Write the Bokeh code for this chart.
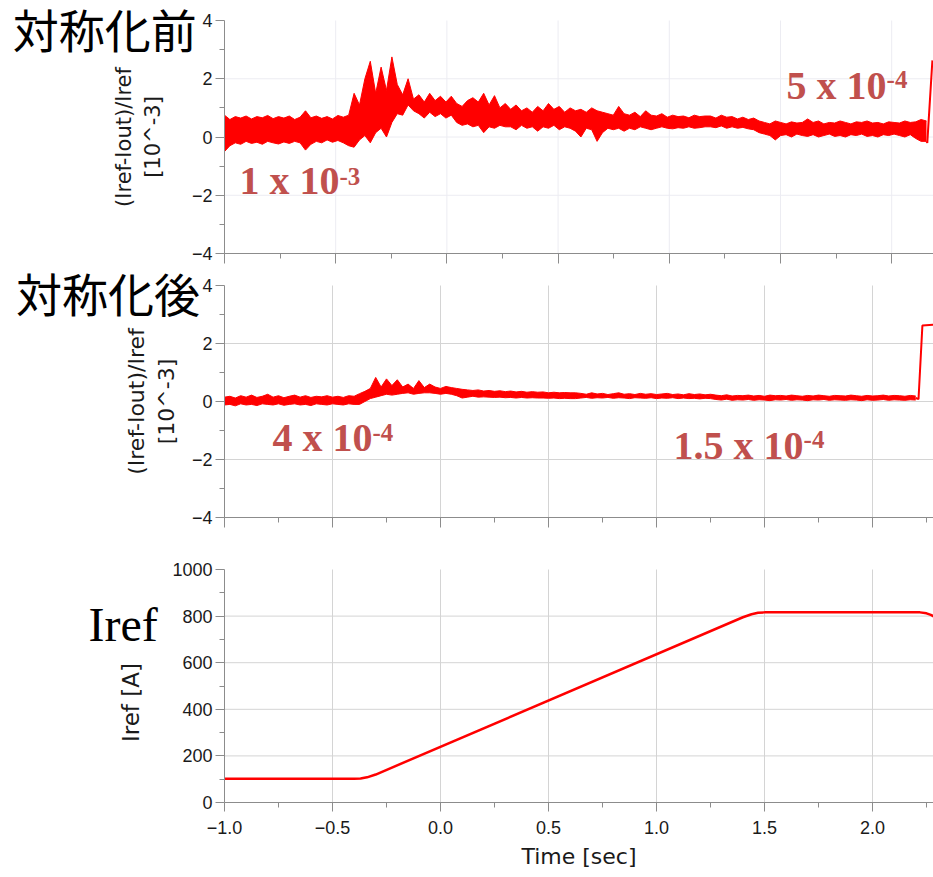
import math
import numpy as np
from bokeh.plotting import figure
from bokeh.layouts import column
from bokeh.models import Range1d, FixedTicker, Label, LinearAxis
from bokeh.embed import file_html
from bokeh.resources import INLINE

# ---------------- data ----------------
# top panel (before symmetrisation): envelope of the noisy trace, sampled every TOP_DT s from -1.0
TOP_T0 = -1.0
TOP_DT = 0.02428
TOP_HI = [0.75, 0.6, 0.7, 0.65, 0.72, 0.62, 0.7, 0.66, 0.74, 0.63, 0.7, 0.65, 0.72, 0.6, 0.68,
          0.9, 0.66, 0.72, 0.64, 0.7, 0.62, 0.74, 0.68, 0.75,
          1.5, 1.1, 2.0, 2.6, 1.5, 2.4, 1.6, 2.75, 1.8,
          1.45, 2.0, 1.3, 1.45, 1.2, 1.5, 1.25, 1.4, 1.2, 1.4, 1.15, 1.05,
          1.25, 1.35, 1.2, 1.5, 1.1, 1.42, 1.0, 1.15,
          0.95, 1.1, 0.9, 1.0, 0.85, 1.05, 0.9, 1.15, 0.95, 1.05, 0.85, 1.0, 0.9, 0.95, 0.85, 1.0, 0.9,
          0.85, 0.8, 0.75, 1.05, 0.8, 0.75, 0.85, 0.7, 0.9, 0.75, 0.72, 0.8, 0.68, 0.75, 0.7, 0.72,
          0.66, 0.75, 0.7, 0.72,
          0.72, 0.65, 0.75, 0.68, 0.7, 0.62, 0.68, 0.6, 0.65, 0.55,
          0.5, 0.45, 0.55, 0.5, 0.45, 0.52, 0.48, 0.5, 0.62, 0.5, 0.55, 0.45, 0.5, 0.48, 0.55, 0.5,
          0.45, 0.52, 0.5, 0.55, 0.48, 0.5, 0.45, 0.52, 0.5, 0.48, 0.55, 0.5, 0.52, 0.6, 0.55]
TOP_LO = [-0.5, -0.3, -0.2, -0.25, -0.15, -0.22, -0.18, -0.25, -0.15, -0.2, -0.24, -0.17, -0.22,
          -0.15, -0.2, -0.45, -0.25, -0.15, -0.2, -0.1, -0.18, -0.12, -0.2, -0.3,
          -0.35, -0.1, 0.05, -0.2, 0.15, 0.3, 0.0, 0.5, 0.8,
          0.75, 1.1, 0.9, 0.8, 0.65, 0.85, 0.7, 0.8, 0.65, 0.75, 0.5, 0.4,
          0.45, 0.35, 0.4, 0.15, 0.35, 0.3, 0.4, 0.35,
          0.35, 0.25, 0.4, 0.3, 0.35, 0.2, 0.35, 0.3, 0.4, 0.25, 0.35, 0.3, 0.2, 0.0, 0.3, 0.25, -0.15,
          0.15, 0.3, 0.25, 0.3, 0.2, 0.3, 0.25, 0.35, 0.3, 0.25, 0.3, 0.35, 0.3, 0.28, 0.32, 0.3,
          0.35, 0.3, 0.32, 0.35,
          0.35, 0.32, 0.38, 0.3, 0.35, 0.3, 0.33, 0.28, 0.25, 0.15,
          0.1, 0.05, -0.1, 0.05, 0.08, 0.0, 0.1, 0.05, 0.02, 0.08, 0.0, 0.05, 0.1, 0.02, 0.05, 0.0,
          0.08, 0.05, 0.1, 0.02, 0.05, 0.0, 0.08, 0.05, 0.1, 0.05, 0.0, 0.08, -0.05, -0.15, -0.15]
TOP_JUMP_T = [2.1564, 2.16, 2.183]
TOP_JUMP_V = [-0.15, -0.2, 2.63]

# middle panel (after symmetrisation), sampled every 0.025 s from -1.0
MID_T0 = -1.0
MID_DT = 0.025
MID_HI = [0.15, 0.18, 0.12, 0.2, 0.15, 0.22, 0.14, 0.18, 0.25, 0.15, 0.2, 0.13, 0.18, 0.22, 0.15,
          0.2, 0.14, 0.18, 0.16, 0.2, 0.15, 0.18, 0.14, 0.2, 0.18,
          0.27, 0.35, 0.45, 0.83, 0.5, 0.78, 0.55, 0.75, 0.5, 0.6, 0.45, 0.72, 0.48, 0.6,
          0.5, 0.45, 0.52, 0.48, 0.45, 0.42, 0.4, 0.38, 0.4, 0.36, 0.38, 0.35, 0.37, 0.34, 0.36,
          0.33, 0.35, 0.32, 0.34, 0.32, 0.33, 0.3, 0.32, 0.3, 0.31, 0.3, 0.3,
          0.28, 0.25, 0.3, 0.26, 0.28, 0.24, 0.27, 0.3, 0.25, 0.27, 0.24, 0.28, 0.25, 0.27, 0.24,
          0.26, 0.28, 0.24, 0.26, 0.23, 0.27, 0.24, 0.26, 0.23, 0.25,
          0.22, 0.2, 0.23, 0.19, 0.21, 0.2, 0.22, 0.19, 0.21, 0.18, 0.22, 0.2, 0.21, 0.19, 0.22,
          0.2, 0.18, 0.21, 0.19, 0.22, 0.2, 0.18, 0.21, 0.2, 0.19, 0.22, 0.2, 0.18, 0.21, 0.19,
          0.2, 0.22, 0.19, 0.21, 0.2, 0.18, 0.21, 0.19]
MID_LO = [-0.12, -0.1, -0.15, -0.08, -0.12, -0.1, -0.14, -0.08, -0.1, -0.12, -0.08, -0.13, -0.1,
          -0.08, -0.12, -0.1, -0.14, -0.08, -0.1, -0.12, -0.08, -0.1, -0.12, -0.08, -0.1,
          -0.1, 0.0, 0.1, 0.15, 0.2, 0.25, 0.22, 0.25, 0.28, 0.3, 0.25, 0.28, 0.3, 0.3,
          0.28, 0.25, 0.28, 0.25, 0.2, 0.12, 0.15, 0.18, 0.15, 0.16, 0.15, 0.14, 0.15, 0.13, 0.14,
          0.12, 0.14, 0.12, 0.13, 0.12, 0.12, 0.11, 0.12, 0.1, 0.11, 0.1, 0.1,
          0.12, 0.14, 0.11, 0.13, 0.12, 0.14, 0.11, 0.13, 0.12, 0.1, 0.13, 0.12, 0.11, 0.13, 0.1,
          0.12, 0.11, 0.13, 0.1, 0.12, 0.1, 0.11, 0.09, 0.11, 0.1,
          0.07, 0.05, 0.08, 0.04, 0.06, 0.05, 0.07, 0.04, 0.06, 0.05, 0.03, 0.06, 0.05, 0.07, 0.04,
          0.06, 0.05, 0.03, 0.06, 0.05, 0.07, 0.04, 0.06, 0.05, 0.04, 0.06, 0.05, 0.03, 0.06, 0.04,
          0.05, 0.07, 0.04, 0.06, 0.05, 0.04, 0.06, 0.05]
MID_JUMP_T = [2.2, 2.213, 2.231, 2.285]
MID_JUMP_V = [0.12, 0.08, 2.62, 2.65]

# bottom panel: reference current Iref [A]
IREF_T = [-1.0, -0.4, -0.37, -0.34, -0.3, 1.4, 1.44, 1.47, 1.5, 2.22, 2.25, 2.27, 2.29]
IREF_A = [102, 102, 103, 108, 120, 795, 808, 814, 816, 816, 812, 805, 796]

X_MAJOR = [-1.0, -0.5, 0.0, 0.5, 1.0, 1.5, 2.0]
X_MINOR = [-0.75, -0.25, 0.25, 0.75, 1.25, 1.75, 2.25]
X_LABELS = ["\u22121.0", "\u22120.5", "0.0", "0.5", "1.0", "1.5", "2.0"]
R_MAJOR = [-4, -2, 0, 2, 4]
R_MINOR = [-3, -1, 1, 3]
R_LABELS = ["\u22124", "\u22122", "0", "2", "4"]
I_MAJOR = [0, 200, 400, 600, 800, 1000]
I_MINOR = [100, 300, 500, 700, 900]

assert len(TOP_HI) == len(TOP_LO)
assert len(MID_HI) == len(MID_LO)
top_t = TOP_T0 + TOP_DT * np.arange(len(TOP_HI))
mid_t = MID_T0 + MID_DT * np.arange(len(MID_HI))

RED = "#ff0000"
ANN = "#c0504d"
AXIS_COL = "#8c8c8c"
TICK_FONT = "Liberation Sans"
LAB_FONT = "DejaVu Sans"
X0 = -1.0          # where the y axis sits
AXIS_PX = 224      # horizontal pixel position of that axis
FIG_W = 933


def style_axis(ax):
    ax.axis_line_color = AXIS_COL
    ax.major_tick_line_color = AXIS_COL
    ax.minor_tick_line_color = AXIS_COL
    ax.major_tick_out = 9
    ax.major_tick_in = 0
    ax.minor_tick_out = 5
    ax.minor_tick_in = 0
    ax.major_label_text_font = TICK_FONT
    ax.major_label_text_font_size = "18px"
    ax.major_label_text_color = "#1a1a1a"
    ax.axis_label_text_font = LAB_FONT
    ax.axis_label_text_font_size = "21px"
    ax.axis_label_text_font_style = "normal"
    ax.axis_label_text_color = "#1a1a1a"


def make_fig(height, py_top, py_bot, px_per_s, yr, ymaj, ymin, ylabels, grid_color, show_x_labels):
    """The frame covers the whole canvas; axes are pinned at x=X0 and y=yr[0]."""
    x_start = X0 - AXIS_PX / px_per_s
    x_end = x_start + FIG_W / px_per_s
    ppu = (py_bot - py_top) / (yr[1] - yr[0])
    y_start = yr[0] - (height - py_bot) / ppu
    y_end = yr[1] + py_top / ppu
    p = figure(width=FIG_W, height=height, x_range=Range1d(x_start, x_end),
               y_range=Range1d(y_start, y_end),
               output_backend="svg", toolbar_location=None,
               min_border_left=0, min_border_right=0, min_border_top=0, min_border_bottom=0)
    p.outline_line_color = None
    p.background_fill_color = "white"
    p.border_fill_color = "white"
    p.xgrid.visible = False
    p.ygrid.visible = False
    xa, ya = p.xaxis[0], p.yaxis[0]
    style_axis(xa)
    style_axis(ya)
    ya.fixed_location = X0
    ya.bounds = (yr[0], yr[1])
    ya.ticker = FixedTicker(ticks=ymaj, minor_ticks=ymin)
    ya.major_label_overrides = {v: s for v, s in zip(ymaj, ylabels)}
    ya.major_label_standoff = 3
    xa.fixed_location = yr[0]
    xa.bounds = (X0, x_end)
    if show_x_labels:
        xa.ticker = FixedTicker(ticks=X_MAJOR, minor_ticks=X_MINOR)
        xa.major_label_overrides = {v: s for v, s in zip(X_MAJOR, X_LABELS)}
        xa.major_label_standoff = 9
    else:
        # unlabeled time axis: long marks at the half seconds, short ones between
        xa.ticker = FixedTicker(ticks=[], minor_ticks=X_MINOR)
        xb = LinearAxis(fixed_location=yr[0], bounds=(X0, x_end),
                        ticker=FixedTicker(ticks=[], minor_ticks=X_MAJOR))
        style_axis(xb)
        xb.minor_tick_out = 10
        p.add_layout(xb, "below")
    # grid lines, limited to the plotting area
    gy = [v for v in ymaj if yr[0] < v < yr[1]]
    p.segment(x0=[X0] * len(gy), x1=[x_end] * len(gy), y0=gy, y1=gy,
              line_color=grid_color, line_width=1, level="underlay")
    gx = [v for v in X_MAJOR if v > X0]
    p.segment(x0=gx, x1=gx, y0=[yr[0]] * len(gx), y1=[yr[1]] * len(gx),
              line_color=grid_color, line_width=1, level="underlay")
    return p


def note(p, x, y, text, size):
    p.add_layout(Label(x=x, y=y, text=text, text_font="Liberation Serif", text_font_style="bold",
                       text_font_size=size, text_color=ANN, text_baseline="bottom"))


def big_text(p, x, y, text, font, size, baseline):
    p.add_layout(Label(x=x, y=y, text=text, text_font=font, text_font_size=size,
                       text_baseline=baseline, text_color="black", text_line_height=1.0))


# ---------- top ----------
p1 = make_fig(265, 20, 253, 222.4, (-4, 4), R_MAJOR, R_MINOR, R_LABELS, "#ececf2", False)
p1.yaxis[0].axis_label = "(Iref-Iout)/Iref\n[10^-3]"
p1.yaxis[0].axis_label_standoff = 24
p1.varea(x=top_t, y1=TOP_LO, y2=TOP_HI, fill_color=RED)
p1.line(top_t, TOP_HI, line_color=RED, line_width=1)
p1.line(top_t, TOP_LO, line_color=RED, line_width=1)
p1.line(TOP_JUMP_T, TOP_JUMP_V, line_color=RED, line_width=2)
big_text(p1, -1.952, 3.73, "対称化前", "Noto Sans CJK JP", "46px", "middle")
note(p1, -0.933, -2.249, "1 x 10", "40px")
note(p1, -0.483, -1.665, "-3", "25px")
note(p1, 1.527, 0.979, "5 x 10", "40px")
note(p1, 1.977, 1.666, "-4", "25px")

# ---------- middle ----------
p2 = make_fig(275, 20, 252, 216.0, (-4, 4), R_MAJOR, R_MINOR, R_LABELS, "#d4d4d4", False)
p2.yaxis[0].axis_label = "(Iref-Iout)/Iref\n[10^-3]"
p2.yaxis[0].axis_label_text_font_size = "22px"
p2.yaxis[0].axis_label_standoff = 10
p2.varea(x=mid_t, y1=MID_LO, y2=MID_HI, fill_color=RED)
p2.line(mid_t, MID_HI, line_color=RED, line_width=1)
p2.line(mid_t, MID_LO, line_color=RED, line_width=1)
p2.line(MID_JUMP_T, MID_JUMP_V, line_color=RED, line_width=2)
big_text(p2, -1.965, 3.76, "対称化後", "Noto Sans CJK JP", "46px", "middle")
note(p2, -0.778, -2.034, "4 x 10", "40px")
note(p2, -0.315, -1.345, "-4", "25px")
note(p2, 1.079, -2.31, "1.5 x 10", "40px")
note(p2, 1.681, -1.587, "-4", "25px")

# ---------- bottom ----------
p3 = make_fig(337, 29, 262, 216.0, (0, 1000), I_MAJOR, I_MINOR, [str(v) for v in I_MAJOR],
              "#d4d4d4", True)
p3.line(IREF_T, IREF_A, line_color=RED, line_width=2.5)
big_text(p3, -1.63, 652, "Iref", "Liberation Serif", "48px", "bottom")
p3.add_layout(Label(x=p3.x_range.start + 130 / 216.0, y=429, text="Iref [A]", angle=math.pi / 2,
                    text_font=LAB_FONT, text_font_size="23px", text_align="center",
                    text_baseline="middle", text_color="#1a1a1a"))
p3.add_layout(Label(x=(X0 + p3.x_range.end) / 2, y=-232, text="Time [sec]", text_font=LAB_FONT,
                    text_font_size="22px", text_align="center", text_baseline="middle",
                    text_color="#1a1a1a"))

layout = column(p1, p2, p3, spacing=0)
open("out.html", "w").write(file_html(layout, INLINE))
